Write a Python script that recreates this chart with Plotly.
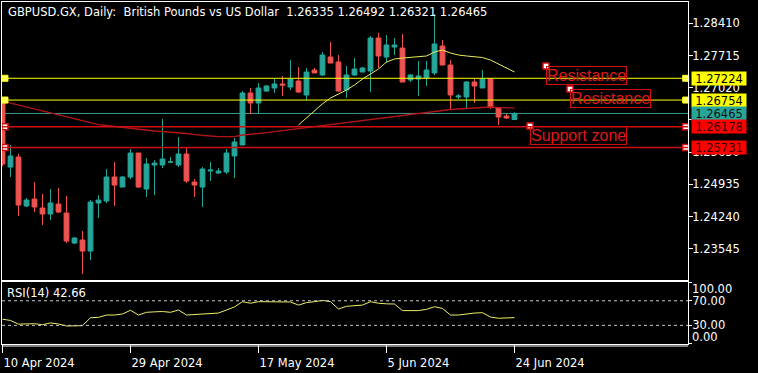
import plotly.graph_objects as go

# ---------------- data ----------------
symbol = "GBPUSD.GX"
timeframe = "Daily"
description = "British Pounds vs US Dollar"

bar_idx = list(range(65))

open_ = [1.26755, 1.25309, 1.25525, 1.24467, 1.24618, 1.24424, 1.24295, 1.24510, 1.24316, 1.23669,
         1.23734, 1.23496, 1.24532, 1.24575, 1.25093, 1.24877, 1.25093, 1.25611, 1.24834, 1.25352,
         1.25352, 1.25417, 1.25352, 1.25590, 1.24985, 1.24877, 1.25223, 1.25180, 1.25201, 1.25547,
         1.25784, 1.26906, 1.26690, 1.26949, 1.27014, 1.27100, 1.27036, 1.27165, 1.26863, 1.27402,
         1.27295, 1.27683, 1.27575, 1.26971, 1.27295, 1.27359, 1.27381, 1.28093, 1.27683, 1.27899,
         1.27877, 1.27187, 1.27208, 1.27230, 1.27338, 1.27920, 1.27510, 1.26820, 1.26820, 1.27143,
         1.27014, 1.27208, 1.26582, 1.26410, 1.26335]
high = [1.26798, 1.25784, 1.25590, 1.24640, 1.24985, 1.24726, 1.24834, 1.24856, 1.24683, 1.23799,
        1.23928, 1.24597, 1.24705, 1.25266, 1.25417, 1.25115, 1.25698, 1.25611, 1.25503, 1.25460,
        1.26345, 1.25525, 1.25956, 1.25719, 1.25050, 1.25309, 1.25417, 1.25287, 1.25698, 1.25935,
        1.26949, 1.27014, 1.27122, 1.27079, 1.27208, 1.27273, 1.27618, 1.27467, 1.27446, 1.27446,
        1.27791, 1.28007, 1.27726, 1.27489, 1.27661, 1.27467, 1.28136, 1.28201, 1.28158, 1.28093,
        1.28179, 1.27316, 1.27597, 1.27597, 1.28611, 1.28050, 1.27618, 1.26885, 1.27165, 1.27208,
        1.27402, 1.27230, 1.26604, 1.26453, 1.26492]
low = [1.25330, 1.25093, 1.24252, 1.24446, 1.24338, 1.24057, 1.24165, 1.24316, 1.23669, 1.23647,
       1.23000, 1.23302, 1.24209, 1.24532, 1.24467, 1.24877, 1.25050, 1.24856, 1.24661, 1.24705,
       1.25287, 1.25395, 1.25309, 1.24963, 1.24661, 1.24446, 1.25007, 1.25158, 1.25158, 1.25072,
       1.25784, 1.26453, 1.26453, 1.26928, 1.26906, 1.26841, 1.26971, 1.26906, 1.26755, 1.27338,
       1.27273, 1.27553, 1.26928, 1.26798, 1.27273, 1.27359, 1.26928, 1.27446, 1.27553, 1.27726,
       1.27143, 1.27143, 1.26841, 1.27057, 1.27295, 1.27510, 1.26561, 1.26777, 1.26582, 1.26690,
       1.27014, 1.26561, 1.26216, 1.26345, 1.26321]
close = [1.25374, 1.25547, 1.24489, 1.24597, 1.24446, 1.24295, 1.24532, 1.24338, 1.23712, 1.23777,
         1.23496, 1.24554, 1.24597, 1.25093, 1.24920, 1.25093, 1.25611, 1.24877, 1.25374, 1.25395,
         1.25482, 1.25420, 1.25590, 1.25007, 1.24920, 1.25266, 1.25244, 1.25223, 1.25611, 1.25849,
         1.26906, 1.26690, 1.27014, 1.27057, 1.27100, 1.27079, 1.27208, 1.26928, 1.27359, 1.27338,
         1.27726, 1.27553, 1.26949, 1.27295, 1.27424, 1.27446, 1.28093, 1.27705, 1.27942, 1.27942,
         1.27143, 1.27295, 1.27273, 1.27402, 1.27964, 1.27510, 1.26863, 1.26841, 1.27143, 1.27057,
         1.27208, 1.26604, 1.26388, 1.26367, 1.26465]

# slow moving average (red)
ma_slow = [1.26733, 1.26690, 1.26647, 1.26604, 1.26561, 1.26518, 1.26485, 1.26442, 1.26399, 1.26345,
           1.26302, 1.26259, 1.26226, 1.26205, 1.26183, 1.26172, 1.26151, 1.26129, 1.26108, 1.26086,
           1.26075, 1.26064, 1.26043, 1.26032, 1.26010, 1.25989, 1.25978, 1.25967, 1.25963, 1.25967,
           1.26000, 1.26010, 1.26032, 1.26053, 1.26075, 1.26097, 1.26118, 1.26140, 1.26162, 1.26183,
           1.26205, 1.26226, 1.26248, 1.26270, 1.26291, 1.26313, 1.26334, 1.26367, 1.26388, 1.26410,
           1.26431, 1.26453, 1.26475, 1.26496, 1.26518, 1.26539, 1.26550, 1.26561, 1.26572, 1.26582,
           1.26593, 1.26604, 1.26593, 1.26582, 1.26582]
# fast moving average (yellow), drawn from bar 37 onward
ma_fast_start = 37
ma_fast = [1.26216, 1.26375, 1.26524, 1.26673, 1.26798, 1.26885, 1.26971, 1.27079, 1.27208, 1.27316,
           1.27424, 1.27575, 1.27640, 1.27661, 1.27672, 1.27683, 1.27705, 1.27791, 1.27834, 1.27769,
           1.27726, 1.27705, 1.27683, 1.27672, 1.27618, 1.27532, 1.27446, 1.27359]

rsi = [40, 38, 32, 32.7, 32.7, 31, 34, 32.2, 29, 29.2,
       29.5, 42.4, 43, 46.8, 46.8, 48.5, 54.5, 46.8, 51.2, 52,
       52.5, 51.2, 55, 46.8, 47.5, 48.5, 49, 50, 55, 60,
       68.5, 66, 68.5, 68.5, 68.5, 69, 68, 63, 67, 68.5,
       70.5, 68.5, 56.6, 61, 62, 63, 68.5, 66, 65, 64.7,
       54, 54, 54, 56, 60.3, 57.5, 46.8, 46.8, 48.9, 50,
       50.6, 43.6, 41.5, 41.5, 42.66]

price_tick_vals = [1.28410, 1.27715, 1.27020, 1.26325, 1.25630, 1.24935, 1.24240, 1.23545]
hidden_price_ticks = [1.26325]   # label fully covered by the price tags in the original
rsi_tick_vals = [0, 30, 70, 100]
rsi_levels = [30, 70]
date_tick_idx = [0, 16, 32, 48, 64]
date_tick_labels = ["10 Apr 2024", "29 Apr 2024", "17 May 2024", "5 Jun 2024", "24 Jun 2024"]

resistance_levels = [1.27224, 1.26754]
support_levels = [1.26178, 1.25731]

text_labels = ["Resistance", "Resistance", "Support zone"]
text_label_idx = [67.94, 70.94, 65.94]
text_label_price = [1.27489, 1.26992, 1.26194]

# ---------------- styles / geometry ----------------
W, H = 758, 373
ML, MR, MT, MB = 2, 70, 2, 29
PW, PH = W - ML - MR, H - MT - MB
def px_x(px):
    return (px - ML) / PW
def px_y(py):
    return (H - MB - py) / PH

BG = "#000000"
TEAL = "#26a69a"
PINK = "#ef5350"
YEL = "#ffff00"
RED = "#d01010"
FONT = "DejaVu Sans"
FS = 11.5
XR = [-0.0625, 85.69]
YR = [1.22871, 1.28870]
RSIR = [-0.3, 100.5]

fig = go.Figure()

fig.add_trace(go.Candlestick(
    x=bar_idx, open=open_, high=high, low=low, close=close,
    increasing=dict(fillcolor=TEAL, line=dict(color=TEAL, width=1)),
    decreasing=dict(fillcolor=PINK, line=dict(color=PINK, width=1)),
    whiskerwidth=0, showlegend=False, hoverinfo="skip", xaxis="x", yaxis="y"))

fig.add_trace(go.Scatter(x=bar_idx, y=ma_slow, mode="lines",
                         line=dict(color="#b31414", width=1.3), showlegend=False,
                         hoverinfo="skip", xaxis="x", yaxis="y"))
fig.add_trace(go.Scatter(x=bar_idx[ma_fast_start:], y=ma_fast, mode="lines",
                         line=dict(color="#eaea5a", width=1), showlegend=False,
                         hoverinfo="skip", xaxis="x", yaxis="y"))

fig.add_trace(go.Scatter(x=bar_idx, y=rsi, mode="lines",
                         line=dict(color="#eeee66", width=1), showlegend=False,
                         hoverinfo="skip", xaxis="x2", yaxis="y2"))

shapes = []
for lv in resistance_levels:
    shapes.append(dict(type="line", xref="x domain", x0=0, x1=1, yref="y", y0=lv, y1=lv,
                       line=dict(color=YEL, width=1), layer="above"))
for lv in support_levels:
    shapes.append(dict(type="line", xref="x domain", x0=0, x1=1, yref="y", y0=lv, y1=lv,
                       line=dict(color=RED, width=1.5), layer="above"))
shapes.append(dict(type="line", xref="x domain", x0=0, x1=1, yref="y", y0=close[-1], y1=close[-1],
                   line=dict(color="#3c9a90", width=1), layer="below"))
for lv in rsi_levels:
    shapes.append(dict(type="line", xref="x2 domain", x0=0, x1=1, yref="y2", y0=lv, y1=lv,
                       line=dict(color="#c8c8c8", width=1, dash="3px,3px")))
shapes.append(dict(type="line", xref="paper", x0=0, x1=1, yref="paper",
                   y0=px_y(346), y1=px_y(346), line=dict(color="white", width=1)))

# selection handles on the drawn objects
left_i, right_i = 0.31, 85.4
fig.add_trace(go.Scatter(
    x=[left_i] * 2 + [right_i] * 2, y=resistance_levels * 2, mode="markers",
    marker=dict(symbol="square", size=6, color="#ffff80", line=dict(color=YEL, width=1)),
    showlegend=False, hoverinfo="skip", xaxis="x", yaxis="y", cliponaxis=False))
fig.add_trace(go.Scatter(
    x=[left_i] * 2 + [right_i] * 2 + text_label_idx, y=support_levels * 2 + text_label_price,
    mode="markers",
    marker=dict(symbol="square", size=6, color="white", line=dict(color=RED, width=1.5)),
    showlegend=False, hoverinfo="skip", xaxis="x", yaxis="y", cliponaxis=False))

ann = []
ann.append(dict(xref="paper", yref="paper", x=px_x(6), y=px_y(12), xanchor="left", yanchor="middle",
                text=f"{symbol}, {timeframe}:\u00a0 {description}\u00a0 "
                     f"{open_[-1]:.5f} {high[-1]:.5f} {low[-1]:.5f} {close[-1]:.5f}",
                showarrow=False, font=dict(family=FONT, size=FS, color="white")))
ann.append(dict(xref="paper", yref="paper", x=px_x(5), y=px_y(293), xanchor="left", yanchor="middle",
                text=f"RSI(14) {rsi[-1]:.2f}", showarrow=False,
                font=dict(family=FONT, size=FS, color="white")))

box_specs = [(resistance_levels[0], YEL, "black"), (resistance_levels[1], YEL, "black"),
             (close[-1], "#26a69a", "#101010"), (support_levels[0], "#ff0000", "#300000"),
             (support_levels[1], "#ff0000", "#300000")]
for val, bg, fc in box_specs:
    ann.append(dict(xref="paper", yref="y", x=1, y=val, xanchor="left", yanchor="middle", xshift=3,
                    text=f"{val:.5f}", showarrow=False, bgcolor=bg, width=54, height=13,
                    borderpad=0, font=dict(family=FONT, size=FS, color=fc)))

for t, xi, yp in zip(text_labels, text_label_idx, text_label_price):
    ann.append(dict(xref="x", yref="y", x=xi, y=yp, xanchor="left", yanchor="top", text=t,
                    showarrow=False, bordercolor=RED, borderwidth=1, borderpad=0,
                    font=dict(family="Liberation Sans", size=16, color="#e01818")))

ann.append(dict(xref="paper", yref="y2", x=1, y=100, xanchor="left", yanchor="middle", xshift=2,
                yshift=-7, text="100.00", showarrow=False, font=dict(family=FONT, size=FS, color="white")))
ann.append(dict(xref="paper", yref="y2", x=1, y=0, xanchor="left", yanchor="middle", xshift=2,
                yshift=7, text="0.00", showarrow=False, font=dict(family=FONT, size=FS, color="white")))

axis_common = dict(showgrid=False, zeroline=False, showline=True, linecolor="white", linewidth=1,
                   mirror=True, fixedrange=True)

fig.update_layout(
    width=W, height=H, margin=dict(l=ML, r=MR, t=MT, b=MB),
    paper_bgcolor=BG, plot_bgcolor=BG, showlegend=False,
    boxgap=0.4, boxgroupgap=0,
    xaxis=dict(domain=[0, 1], anchor="y", range=XR, showticklabels=False, ticks="",
               rangeslider=dict(visible=False), **axis_common),
    yaxis=dict(domain=[px_y(280), 1], anchor="x", range=YR, side="right",
               tickvals=price_tick_vals,
               ticktext=["" if v in hidden_price_ticks else f"{v:.5f}" for v in price_tick_vals],
               ticks="outside", ticklen=4, tickcolor="white", ticklabelstandoff=-3,
               tickfont=dict(family=FONT, size=FS, color="white"), **axis_common),
    xaxis2=dict(domain=[0, 1], anchor="y2", range=XR, tickvals=date_tick_idx, ticktext=date_tick_labels,
                ticks="outside", ticklen=8, tickcolor="white", ticklabelposition="outside right",
                ticklabelstandoff=8,
                tickfont=dict(family=FONT, size=FS, color="white"), **axis_common),
    yaxis2=dict(domain=[0, px_y(282)], anchor="x2", range=RSIR, side="right",
                tickvals=rsi_tick_vals,
                ticktext=["" if v in (0, 100) else f"{v:.2f}" for v in rsi_tick_vals],
                ticks="outside", ticklen=3, tickcolor="white", ticklabelstandoff=-2,
                tickfont=dict(family=FONT, size=FS, color="white"), **axis_common),
    shapes=shapes, annotations=ann,
)

fig.write_html("out.html", config={"displayModeBar": False},
               post_script="document.body.style.margin='0';document.body.style.background='#000';")
